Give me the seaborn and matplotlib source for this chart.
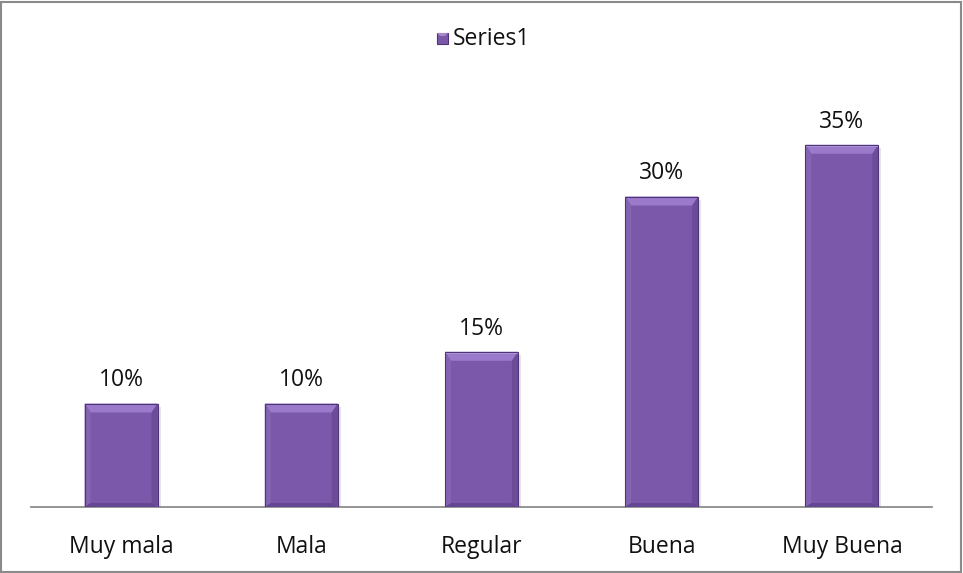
import matplotlib
matplotlib.use("Agg")
import matplotlib.pyplot as plt
import seaborn as sns
import pandas as pd
from matplotlib.patches import Polygon, Rectangle

categories = ["Muy mala", "Mala", "Regular", "Buena", "Muy Buena"]
values = [0.10, 0.10, 0.15, 0.30, 0.35]
labels = ["10%", "10%", "15%", "30%", "35%"]
series_name = "Series1"

df = pd.DataFrame({"cat": categories, "val": values})

sns.set_theme(style="white")
plt.rcParams["font.family"] = ["Open Sans", "DejaVu Sans"]

W, H = 963, 573
fig = plt.figure(figsize=(W / 100, H / 100), dpi=100)
ax = fig.add_axes([31 / W, (H - 507) / H, (932 - 31) / W, (507 - 93) / H])

face = "#7B58A9"
sns.barplot(data=df, x="cat", y="val", color=face, width=0.405,
            saturation=1, ax=ax, edgecolor="none", zorder=2)
ax.set_ylim(0, 0.40)
ax.set_xlim(-0.5, len(categories) - 0.5)

# bevel shading on each bar, built from the drawn patch geometry
def bevel(ax, p, top_px=9, side_px=6, bot_px=4):
    x0, y0 = p.get_x(), p.get_y()
    w, h = p.get_width(), p.get_height()
    x1, y1 = x0 + w, y0 + h
    to_data = ax.transData.inverted()
    (dx0, dy0) = to_data.transform((0, 0))
    (dx1, dy1) = to_data.transform((side_px, top_px))
    (_, dy2) = to_data.transform((0, bot_px))
    sx = dx1 - dx0
    ty = dy1 - dy0
    by = dy2 - dy0
    polys = [
        ([(x0, y1), (x1, y1), (x1 - sx, y1 - ty), (x0 + sx, y1 - ty)], "#9C7ACB"),
        ([(x0, y0), (x0, y1), (x0 + sx, y1 - ty), (x0 + sx, y0 + by)], "#8463B2"),
        ([(x1, y0), (x1, y1), (x1 - sx, y1 - ty), (x1 - sx, y0 + by)], "#6C4C99"),
        ([(x0, y0), (x1, y0), (x1 - sx, y0 + by), (x0 + sx, y0 + by)], "#654693"),
    ]
    for pts, c in polys:
        ax.add_patch(Polygon(pts, closed=True, facecolor=c, edgecolor="none", zorder=3))
    # bright rim along the top edge
    ax.add_patch(Rectangle((x0, y1 - ty * 0.22), w, ty * 0.22, facecolor="#B296DA",
                           edgecolor="none", zorder=4))
    # thin dark outline
    ax.add_patch(Rectangle((x0, y0), w, h, fill=False, edgecolor="#4E3577", lw=0.8, zorder=5))
    # soft shadow to the right
    ax.add_patch(Rectangle((x0 + sx * 0.5, y0), w, h - ty * 0.4, facecolor="#000000",
                           alpha=0.10, edgecolor="none", zorder=1))

for p in ax.patches[:len(values)]:
    bevel(ax, p)

for i, (v, lab) in enumerate(zip(values, labels)):
    ax.annotate(lab, (i, v), xytext=(0, 8), textcoords="offset points",
                ha="center", va="bottom", fontsize=16.5, color="#111111")

ax.set_xlabel("")
ax.set_ylabel("")
ax.set_yticks([])
ax.tick_params(axis="x", length=0, labelsize=16.5, colors="#111111", pad=20)
for s in ["top", "right", "left"]:
    ax.spines[s].set_visible(False)
ax.spines["bottom"].set_color("#8C8C8C")
ax.spines["bottom"].set_linewidth(1.3)
ax.set_facecolor("none")

# legend
leg_ax = fig.add_axes([0, 0, 1, 1], facecolor="none")
leg_ax.set_xlim(0, W)
leg_ax.set_ylim(H, 0)
leg_ax.axis("off")
leg_ax.add_patch(Rectangle((437, 33), 11, 11, facecolor=face, edgecolor="#4E3577", lw=0.8))
leg_ax.add_patch(Polygon([(437, 33), (448, 33), (445, 36), (440, 36)], facecolor="#A688CC", edgecolor="none"))
leg_ax.text(453, 39, series_name, ha="left", va="center", fontsize=16.5, color="#111111")

# chart border
fig.patches.append(Rectangle((1 / W, 1 / H), (W - 3) / W, (H - 3) / H, transform=fig.transFigure,
                             fill=False, edgecolor="#8A8A8A", lw=1.5))

fig.savefig("out.png", dpi=100)
